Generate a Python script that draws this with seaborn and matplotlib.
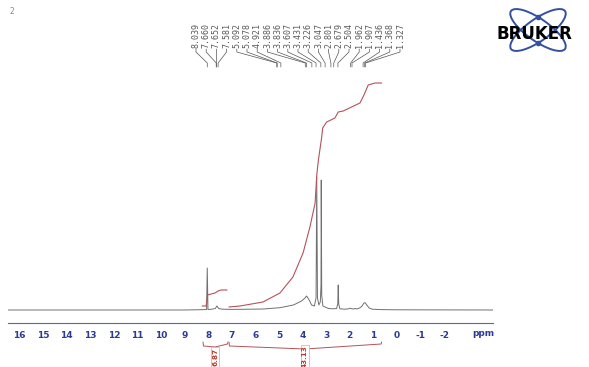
import matplotlib
matplotlib.use("Agg")
import matplotlib.pyplot as plt
from matplotlib.patches import Ellipse
from matplotlib.ticker import FixedLocator, MultipleLocator
import numpy as np
import pandas as pd
import seaborn as sns

#%% data
# 1H trace: shift (ppm) and height above the baseline (px)
spec_ppm = [16.5, 9.0, 8.3, 8.07, 8.04, 8.01, 7.85, 7.70, 7.63, 7.56, 7.40, 7.0, 6.2,
            5.66, 4.96, 4.39, 4.04, 3.90, 3.83, 3.72, 3.62, 3.50, 3.43, 3.40, 3.37,
            3.31, 3.25, 3.22, 3.21, 3.19, 3.14, 3.05, 2.90, 2.70, 2.56, 2.51, 2.49,
            2.47, 2.42, 2.20, 2.05, 1.99, 1.92, 1.82, 1.78, 1.70, 1.58, 1.48, 1.40,
            1.35, 1.28, 1.18, 1.05, 0.70, 0.0, -4.1]
spec_int = [0, 0, 0.3, 0.5, 42, 0.5, 0.8, 1.5, 4, 1.5, 0.8, 0.6, 0.8,
            1.0, 2.3, 5, 9, 12, 14, 10, 5, 4, 12, 133, 12,
            5, 8, 25, 130, 15, 4, 3, 1.5, 1.2, 1.5, 6, 25,
            6, 1.2, 0.8, 1.2, 1.8, 1.2, 1.0, 1.6, 1.0, 2.0, 4, 7,
            7.3, 5, 2, 0.8, 0.4, 0.2, 0]

# integral curves: ppm, height above the ruler (px)
integ1_ppm = [8.26, 8.09, 8.05, 8.03, 7.88, 7.71, 7.58, 7.46, 7.20]
integ1_h = [17, 17, 23, 28, 29, 30, 32, 33, 33]
integ2_ppm = [7.12, 6.65, 5.68, 4.96, 4.41, 3.98, 3.69, 3.47, 3.40, 3.33, 3.19,
              3.15, 2.98, 2.63, 2.49, 2.28, 1.57, 1.40, 1.22, 0.93, 0.65]
integ2_h = [16, 17, 21, 30, 46, 70, 96, 120, 148, 163, 186,
            195, 201, 205, 211, 212, 220, 228, 238, 240, 240]

integ_start = [8.22, 7.12]
integ_end = [7.16, 0.65]
integ_values = ["6.87", "43.13"]

peak_labels = ["8.039", "7.660", "7.652", "7.581", "5.092", "5.078", "4.921",
               "3.886", "3.836", "3.607", "3.431", "3.226", "3.047", "2.801",
               "2.679", "2.504", "1.962", "1.907", "1.436", "1.368", "1.327"]
ppm_ticks = list(range(16, -3, -1))

#%% layout (pixels of the 589x367 picture)
W, H = 589, 367
ax_left, ax_right, ax_y = 8, 493, 323
x_zero, px_per_ppm = 397, 23.6
base = 13  # spectrum baseline above the ruler


def px2ppm(x):
    return (x_zero - x) / px_per_ppm


sns.set_style("white")
plt.rcParams['axes.unicode_minus'] = False
plt.rcParams['font.family'] = ['DejaVu Sans']

fig = plt.figure(figsize=(W / 100, H / 100), dpi=100, facecolor='white')
ax = fig.add_axes([ax_left / W, (H - ax_y) / H, (ax_right - ax_left) / W, ax_y / H])
ax.set_xlim(px2ppm(ax_left), px2ppm(ax_right))
ax.set_ylim(0, ax_y)
ax.patch.set_alpha(0)

spec = pd.DataFrame({'ppm': spec_ppm, 'h': np.array(spec_int) + base})
sns.lineplot(data=spec, x='ppm', y='h', ax=ax, sort=False, estimator=None,
             color='#707070', linewidth=0.7)

red = '#b5525a'
for xs, ys in [(integ1_ppm, integ1_h), (integ2_ppm, integ2_h)]:
    sns.lineplot(x=xs, y=ys, ax=ax, sort=False, estimator=None, color=red, linewidth=0.8)

# integral brackets below the ruler
lab_pos = [(px2ppm(215), -34), (px2ppm(305), -34)]
for a, b, val, (lx, ly) in zip(integ_start, integ_end, integ_values, lab_pos):
    dip = -24 if val == "6.87" else -26
    ax.plot([a, a - 0.02, lx, b + 0.02, b], [-19, -23, dip, -21, -19], color=red,
            linewidth=0.7, clip_on=False)
    ax.text(lx, ly, val, rotation=90, ha='center', va='center', fontsize=5.2,
            fontweight='bold', color='#c0392b', clip_on=False,
            bbox=dict(boxstyle='square,pad=0.12', fc='white', ec='#e6b0b0', lw=0.6))

# peak labels and connectors
label_x = np.linspace(196, 400, len(peak_labels))
for lab, lxp in zip(peak_labels, label_x):
    lx = px2ppm(lxp)
    pp = float(lab)
    ax.text(lx, ax_y - 48, lab, rotation=90, ha='center', va='bottom', fontsize=6,
            family='DejaVu Sans Mono', color='#5a5a5a')
    ax.plot([lx, lx, pp, pp], [274, 271, 260, 256], color='#555555', linewidth=0.5)

# ruler
for s in ['top', 'left', 'right']:
    ax.spines[s].set_visible(False)
ax.spines['bottom'].set_color('#5a66a8')
ax.spines['bottom'].set_linewidth(0.8)
ax.set_yticks([])
ax.xaxis.set_major_locator(FixedLocator(ppm_ticks))
ax.xaxis.set_minor_locator(MultipleLocator(0.1))
ax.set_xticklabels([str(t) for t in ppm_ticks])
ax.tick_params(axis='x', which='major', direction='out', length=4, width=0.8,
               color='#5a66a8', labelcolor='#2b3a96', labelsize=6.5, pad=2)
ax.tick_params(axis='x', which='minor', direction='out', length=2, width=0.4,
               color='#5a66a8')
for t in ax.get_xticklabels():
    t.set_fontweight('bold')
ax.set_xlabel('')
ax.set_ylabel('')
ax.text(px2ppm(483), -11, 'ppm', ha='center', va='center', fontsize=6.5,
        fontweight='bold', color='#2b3a96', clip_on=False)

# overlay in pixel coordinates: page number and logo
ov = fig.add_axes([0, 0, 1, 1])
ov.set_xlim(0, W)
ov.set_ylim(H, 0)
ov.axis('off')
ov.patch.set_alpha(0)
ov.text(12, 12, '2', fontsize=5.5, color='#888888', ha='center', va='center')
for ang in (35, -35):
    ov.add_patch(Ellipse((538, 30), 66, 22, angle=ang, fill=False, ec='#34509e', lw=1.4))
ov.scatter([538, 538], [17, 43], s=9, color='#34509e', zorder=3)
ov.text(496, 34, 'BRUKER', fontsize=12, fontweight='heavy', color='black',
        ha='left', va='center', zorder=4)

fig.savefig("out.png", dpi=100)
